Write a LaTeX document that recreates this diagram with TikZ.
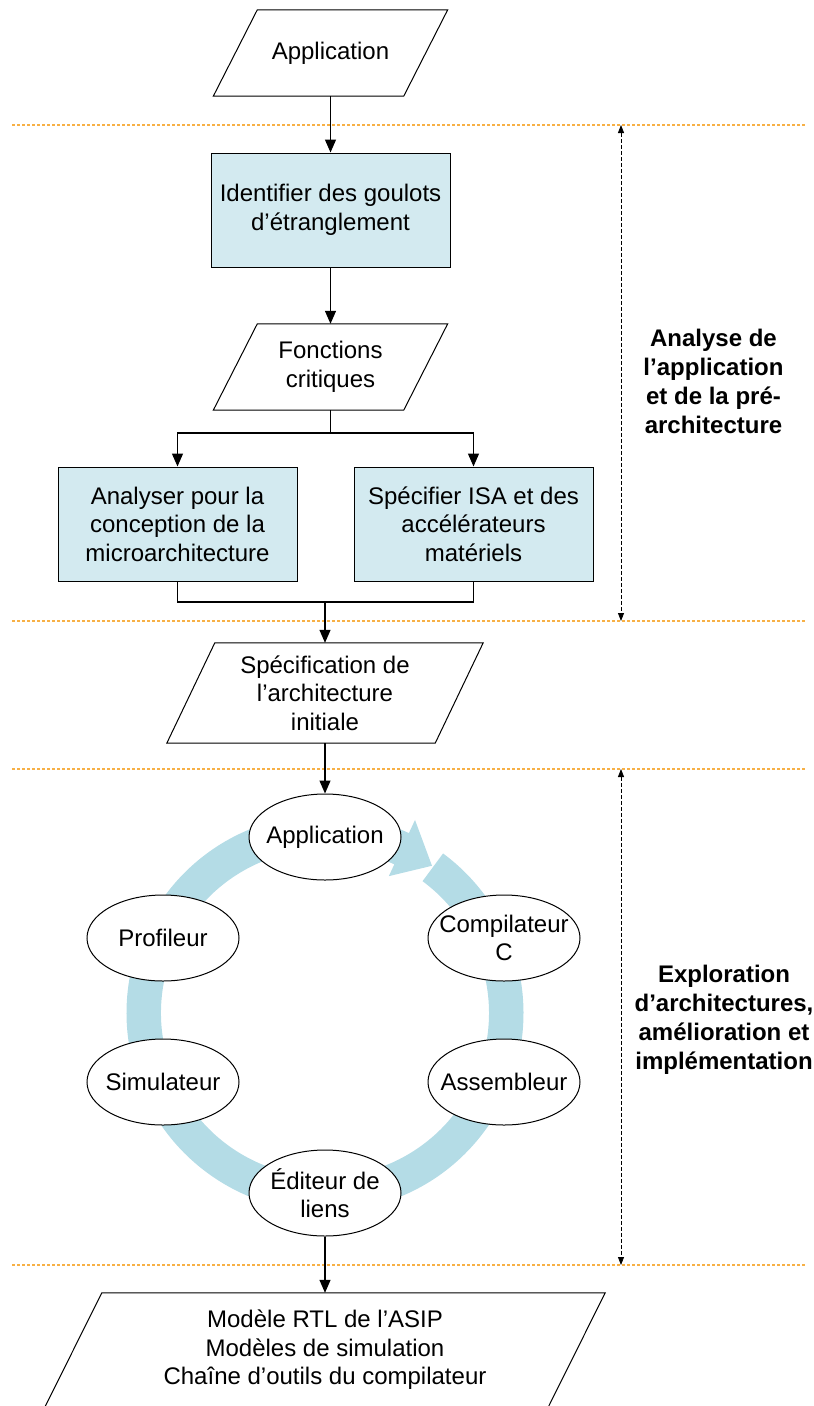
\documentclass[tikz,border=0pt]{standalone}
\usepackage{fontspec}
\setmainfont{Liberation Sans}
\usetikzlibrary{arrows.meta,calc,shapes.geometric}
\definecolor{boxfill}{RGB}{211,234,240}
\definecolor{ringfill}{RGB}{180,220,230}
\definecolor{sepline}{RGB}{247,176,70}

% parallelogram outline around an (undrawn) rectangular text node
\newcommand\paraoutline[2]{%
  \draw[outline] ([xshift=#2]#1.north west) -- ([xshift=#2]#1.north east)
    -- ([xshift=-#2]#1.south east) -- ([xshift=-#2]#1.south west) -- cycle;}

\begin{document}
\begin{tikzpicture}[x=1pt,y=-1pt,
  font=\fontsize{24}{28.5}\selectfont,
  outline/.style={draw=black,line width=1pt},
  iotext/.style={inner sep=0pt,align=center},
  procbox/.style={draw=black,line width=1pt,fill=boxfill,minimum width=239pt,
    minimum height=114pt,inner sep=0pt,align=center},
  ell/.style={ellipse,draw=black,line width=1pt,fill=white,minimum width=152pt,
    minimum height=86pt,inner sep=0pt},
  lbl/.style={inner sep=0pt,align=center},
  plain/.style={line width=1.3pt},
  flow/.style={line width=1.3pt,-{Triangle[length=13pt,width=11pt]}},
  sep/.style={draw=sepline,line width=1.2pt,dash pattern=on 3pt off 2pt},
  span/.style={line width=0.8pt,dash pattern=on 4pt off 2pt,
    {Triangle[length=8pt,width=6pt]}-{Triangle[length=8pt,width=6pt]}},
  side/.style={font=\bfseries\fontsize{24}{29}\selectfont,align=center,inner sep=0pt}]

\useasboundingbox (0,0) rectangle (814,1406);

% phase separators
\foreach \yy in {125,621,769,1265}
  \draw[sep] (12,\yy) -- (805,\yy);

% first phase
\node[iotext,minimum width=190pt,minimum height=86pt] (app) at (330.5,53) {Application};
\paraoutline{app}{22pt}
\node[procbox] (ident) at (330.5,210) {Identifier des goulots\\d’étranglement};
\node[iotext,minimum width=190pt,minimum height=86pt] (fonc) at (330.5,367) {Fonctions\\critiques};
\paraoutline{fonc}{22pt}
\node[procbox] (ana) at (177.5,524) {Analyser pour la\\conception de la\\microarchitecture};
\node[procbox] (spe) at (473.5,524) {Spécifier ISA et des\\accélérateurs\\matériels};
\node[iotext,minimum width=268pt,minimum height=100pt] (spec) at (325,693) {Spécification de\\l’architecture\\initiale};
\paraoutline{spec}{24pt}

\draw[flow] (app.south) -- (ident.north);
\draw[flow] (ident.south) -- (fonc.north);
\coordinate (split) at (330.5,433);
\draw[plain] (fonc.south) -- (split);
\draw[flow] (split) -| (ana.north);
\draw[flow] (split) -| (spe.north);
\coordinate (join) at (325,602);
\draw[plain] (ana.south) |- (join) -| (spe.south);
\draw[flow] (join) -- (spec.north);

% design loop
\coordinate (C) at (325,1013);
\fill[ringfill] ($(C)+(53.5:198.5pt)$) arc[start angle=53.5,end angle=-295,radius=198.5pt]
  -- ($(C)+(-295:213pt)$) -- ($(C)+(54:182pt)$) -- ($(C)+(-295:151pt)$)
  -- ($(C)+(-295:164pt)$) arc[start angle=-295,end angle=53.5,radius=164pt] -- cycle;

\node[ell] (capp) at (325,837) {};
\node[lbl] at (capp) {Application};
\node[ell] (prof) at (163,938) {};
\node[lbl] at (prof) {Profileur};
\node[ell] (comp) at (504,938) {};
\node[lbl] at (comp) {Compilateur\\C};
\node[ell] (simu) at (163,1082) {};
\node[lbl] at (simu) {Simulateur};
\node[ell] (asm) at (504,1082) {};
\node[lbl] at (asm) {Assembleur};
\node[ell] (edit) at (325,1193) {};
\node[lbl] at (edit) {Éditeur de\\liens};

\draw[flow] (spec.south) -- (capp.north);

% results
\node[iotext,minimum width=503pt,minimum height=114pt] (out) at (325,1350)
  {Modèle RTL de l’ASIP\\Modèles de simulation\\Chaîne d’outils du compilateur};
\paraoutline{out}{28.5pt}
\draw[flow] (edit.south) -- (out.north);

% phase spans and titles
\coordinate (s1t) at (621,125);
\coordinate (s1b) at (621,621);
\coordinate (s2t) at (621,769);
\coordinate (s2b) at (621,1265);
\draw[span] (s1t) -- (s1b);
\draw[span] (s2t) -- (s2b);
\node[side] (t1) at (713.5,381) {Analyse de\\l’application\\et de la pré-\\architecture};
\node[side] (t2) at (724,1020) {Exploration\\d’architectures,\\amélioration et\\implémentation};
\end{tikzpicture}
\end{document}
